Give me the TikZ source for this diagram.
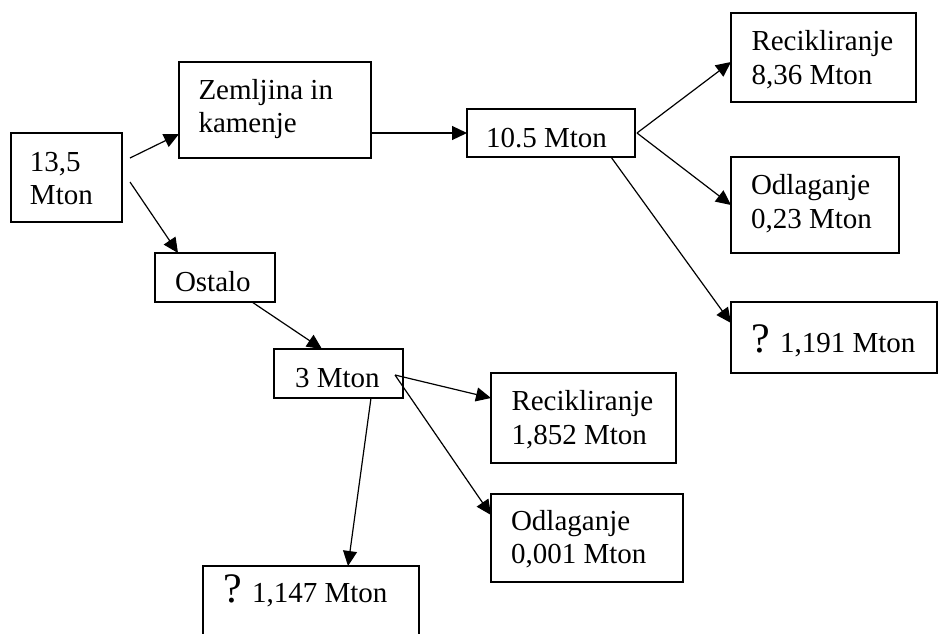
\documentclass[tikz,border=0pt]{standalone}
\usepackage{fontspec}
\setmainfont{Liberation Serif}
\usetikzlibrary{calc,arrows.meta}
\tikzset{
  box/.style={draw, line width=1.5pt, inner sep=0pt, outer sep=0pt, rectangle},
  txt/.style={anchor=base west, inner sep=0pt, outer sep=0pt, font=\fontsize{29}{34}\selectfont},
  qmark/.style={anchor=base west, inner sep=0pt, outer sep=0pt, font=\fontsize{42}{42}\selectfont},
  arr/.style={line width=1.2pt, -{Triangle[length=15pt,width=14pt]}}
}
\begin{document}
\begin{tikzpicture}[x=1pt,y=-1pt]
\useasboundingbox (0,0) rectangle (938,633);
\clip (0,0) rectangle (938,633);

% boxes
\node[box, minimum width=111, minimum height=89] (b135) at (66.5,177.5) {};
\node[box, minimum width=192, minimum height=96] (zem)  at (275,110) {};
\node[box, minimum width=120, minimum height=49] (ost)  at (215,277.5) {};
\node[box, minimum width=168, minimum height=48] (m105) at (551,133) {};
\node[box, minimum width=185, minimum height=89] (rec1) at (823.5,57.5) {};
\node[box, minimum width=168, minimum height=96] (odl1) at (815,205) {};
\node[box, minimum width=206, minimum height=71] (q1)   at (834,337.5) {};
\node[box, minimum width=129, minimum height=49] (m3)   at (338.5,373.5) {};
\node[box, minimum width=185, minimum height=90] (rec2) at (583.5,418) {};
\node[box, minimum width=192, minimum height=88] (odl2) at (587,538) {};
\node[box, minimum width=216, minimum height=84] (q2)   at (311,608) {};

% box texts
\node[txt] (t135a) at (30,171) {13,5};
\node[txt] (t135b) at (30,204) {Mton};
\node[txt] (tzema) at (198.5,99) {Zemljina in};
\node[txt] (tzemb) at (198.5,132) {kamenje};
\node[txt] (tost)  at (175,291) {Ostalo};
\node[txt] (t105)  at (486,147) {10.5 Mton};
\node[txt] (trec1a) at (751.5,50) {Recikliranje};
\node[txt] (trec1b) at (751.5,84) {8,36 Mton};
\node[txt] (todl1a) at (751,194) {Odlaganje};
\node[txt] (todl1b) at (751,228) {0,23 Mton};
\node[qmark] (tq1a) at (751,352) {?};
\node[txt] (tq1b) at (780,352) {1,191 Mton};
\node[txt] (tm3)   at (295,387) {3 Mton};
\node[txt] (trec2a) at (511.5,410) {Recikliranje};
\node[txt] (trec2b) at (511.5,444) {1,852 Mton};
\node[txt] (todl2a) at (511,530) {Odlaganje};
\node[txt] (todl2b) at (511,563) {0,001 Mton};
\node[qmark] (tq2a) at (223,602) {?};
\node[txt] (tq2b) at (252,602) {1,147 Mton};

% connectors
\draw[arr] ($(b135.east)+(8,-19.5)$) -- ($(zem.south west)+(0,-24)$);
\draw[arr] ($(b135.east)+(8,4.5)$) -- ($(ost.north west)+(23,0)$);
\draw[arr] ($(zem.east)+(0,23)$) -- (m105.west);
\draw[arr] ($(m105.east)+(2,0)$) -- ($(rec1.west)+(0,4.5)$);
\draw[arr] ($(m105.east)+(2,0)$) -- (odl1.west);
\draw[arr] ($(m105.south east)+(-24,0)$) -- ($(q1.north west)+(0,21)$);
\draw[arr] ($(ost.south east)+(-23,0)$) -- ($(m3.north west)+(48,0)$);
\draw[arr] ($(m3.east)+(-8,1.5)$) -- ($(rec2.north west)+(0,25)$);
\draw[arr] ($(m3.east)+(-8,1.5)$) -- ($(odl2.north west)+(0,21)$);
\draw[arr] ($(m3.south)+(32.5,0)$) -- ($(q2.north west)+(145,0)$);
\end{tikzpicture}
\end{document}
